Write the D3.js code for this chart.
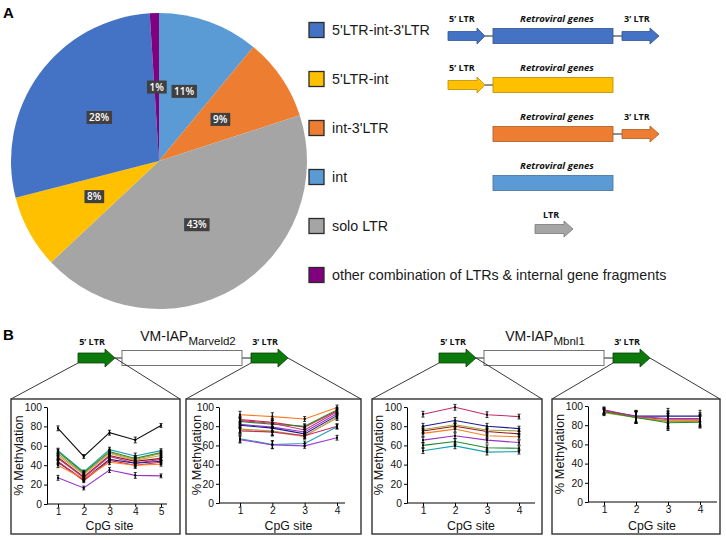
<!DOCTYPE html>
<html><head><meta charset="utf-8">
<script src="https://cdn.jsdelivr.net/npm/d3@7"></script>
<style>body{margin:0;background:#fff} svg{display:block}</style>
</head><body><svg id="c" width="726" height="540"></svg>
<script>
// ---------- DATA ----------
const pieCategories = ["5'LTR-int-3'LTR", "5'LTR-int", "int-3'LTR", "int", "solo LTR", "other combination of LTRs & internal gene fragments"];
const pieValues = [28, 8, 9, 11, 43, 1];
const pieOrder = [3, 2, 4, 1, 0, 5];           // clockwise from 12 o'clock
const pieLabels = ["28%", "8%", "9%", "11%", "43%", "1%"];
const diagramParts = [["5", "int", "3"], ["5", "int"], ["int", "3"], ["int"], ["ltr"], []];

const yTickValues = [0, 20, 40, 60, 80, 100];

const marveld5Sites = [1, 2, 3, 4, 5];
const marveld5Values = [
  [78, 49, 73.5, 66, 81],
  [55, 33, 56, 49.5, 55],
  [54, 32, 54, 47, 53],
  [52, 31, 53, 46, 52],
  [50, 30, 52, 45, 50],
  [48, 28, 50, 44, 47],
  [47, 27, 49, 42, 46],
  [43, 25, 46, 42, 44],
  [44, 24, 45, 40, 43],
  [40, 26, 43, 40, 41],
  [27, 16.5, 35, 29.5, 29]
];
const marveld5Err = [2.5, 2, 2.5, 3, 2];

const marveld3Sites = [1, 2, 3, 4];
const marveld3Values = [
  [92, 90, 87.5, 99.5],
  [87, 84, 79, 96],
  [85, 82, 80, 97],
  [86, 83, 76, 95],
  [82, 79, 74, 93],
  [81, 78, 72, 91],
  [77, 75, 70, 88.5],
  [76, 74, 69, 90],
  [75, 74, 70, 80],
  [67, 61, 62, 79.5],
  [66, 60.5, 59.5, 68]
];
const marveld3Err = [3.5, 4, 2.5, 2.5];

const mbnl5Sites = [1, 2, 3, 4];
const mbnl5Values = [
  [92.5, 99.7, 92, 90],
  [80, 86, 80, 77.5],
  [76.5, 81.5, 76, 75],
  [75, 80, 74.5, 72],
  [72.5, 77, 70, 69],
  [65.5, 70, 65.5, 63],
  [60, 64, 57.5, 57],
  [54.5, 59.5, 53, 53.5]
];
const mbnl5Err = [3, 3, 3, 2.5];

const mbnl3Sites = [1, 2, 3, 4];
const mbnl3Values = [
  [95, 89.5, 89.5, 89.5],
  [96, 89, 87, 87],
  [95, 88.5, 86, 85.5],
  [94, 88, 84.5, 84.5],
  [93, 88, 84, 84],
  [94, 88, 82.5, 83]
];
const mbnl3Err = [3, 6, 8, 6];

// ---------- STYLE / LAYOUT ----------
const pieColors = ["#4472C4", "#FFC000", "#ED7D31", "#5B9BD5", "#A5A5A5", "#800080"];
const col = {black:"#111", teal:"#1a9fb0", green:"#1f8a2a", olive:"#a3a032", tan:"#d2a45a", maroon:"#8e1a1a",
  magenta:"#c4337e", navy:"#1c1c96", red:"#d42a3a", orange:"#ff7a20", purple:"#9a33c4", crimson:"#c8286a", violet:"#a040d0"};
const marveld5Colors = [col.black, col.teal, col.green, col.olive, col.tan, col.maroon, col.magenta, col.navy, col.red, col.orange, col.purple];
const marveld3Colors = [col.orange, col.red, col.green, col.magenta, col.purple, col.navy, col.olive, col.tan, col.crimson, col.teal, col.violet];
const mbnl5Colors = [col.crimson, col.navy, col.olive, col.maroon, col.orange, col.purple, col.green, col.teal];
const mbnl3Colors = [col.navy, col.purple, col.red, col.orange, col.olive, col.green];

const svg = d3.select("#c");
const SANS = "'Liberation Sans', Arial, sans-serif";
const LBL = "'Open Sans', 'Liberation Sans', sans-serif";

// panel letters
svg.append("text").attr("x", 3).attr("y", 18).attr("font-family", SANS).attr("font-weight", "bold").attr("font-size", 15).text("A");
svg.append("text").attr("x", 3).attr("y", 340).attr("font-family", SANS).attr("font-weight", "bold").attr("font-size", 15).text("B");

// ---------- PIE ----------
const pieData = pieOrder.map(i => ({i, v: pieValues[i]}));
const arcs = d3.pie().sort(null).value(d => d.v)(pieData);
const pg = svg.append("g").attr("transform", "translate(159,161)");
const arc = d3.arc().innerRadius(0).outerRadius(148);
const labelArc = d3.arc().innerRadius(74).outerRadius(74);
pg.selectAll("path.s").data(arcs).join("path").attr("class", "s")
  .attr("d", arc).attr("fill", d => pieColors[d.data.i]);
arcs.forEach(d => {
  const [cx, cy] = labelArc.centroid(d);
  const g = pg.append("g");
  const t = g.append("text").attr("x", cx).attr("y", cy + 3.6).attr("text-anchor", "middle")
    .attr("font-family", LBL).attr("font-weight", 600).attr("font-size", 10).attr("fill", "#fff")
    .text(pieLabels[d.data.i]);
  const bb = t.node().getBBox();
  g.insert("rect", "text").attr("x", bb.x - 2.5).attr("y", cy - 6.5).attr("width", bb.width + 5).attr("height", 13).attr("fill", "#404040");
});

// ---------- LEGEND + DIAGRAMS ----------
function arrowPath(x0, xh, xt, cy, hb, hh) {
  return `M${x0},${cy - hb}L${xh},${cy - hb}L${xh},${cy - hh}L${xt},${cy}L${xh},${cy + hh}L${xh},${cy + hb}L${x0},${cy + hb}Z`;
}
const legY0 = 30, legStep = 49;
pieCategories.forEach((name, i) => {
  const cy = legY0 + i * legStep;
  const c = pieColors[i];
  const dk = d3.color(c).darker(0.9).formatHex();
  svg.append("rect").attr("x", 309).attr("y", cy - 7.5).attr("width", 15).attr("height", 15)
    .attr("fill", c).attr("stroke", "#2b2b2b").attr("stroke-width", 1.3);
  svg.append("text").attr("x", 332).attr("y", cy + 5).attr("font-family", SANS).attr("font-size", 14.3)
    .attr("fill", "#1a1a1a").text(name);
  const parts = diagramParts[i];
  const by = cy + 6;
  const lab = (x, txt, anchor, italic, fs) => svg.append("text").attr("x", x).attr("y", by - 14.5)
    .attr("text-anchor", anchor).attr("font-family", LBL).attr("font-weight", "bold")
    .attr("font-style", italic ? "italic" : "normal").attr("font-size", fs).attr("fill", "#111").text(txt);
  if (parts.includes("5")) {
    svg.append("path").attr("d", arrowPath(448, 477, 485, by, 4.5, 8)).attr("fill", c).attr("stroke", dk).attr("stroke-width", 0.8);
    svg.append("line").attr("x1", 485).attr("x2", 493).attr("y1", by).attr("y2", by).attr("stroke", "#222");
    lab(449, "5\u2019 LTR", "start", false, 9);
  }
  if (parts.includes("int")) {
    svg.append("rect").attr("x", 493).attr("y", by - 7.5).attr("width", 120).attr("height", 15)
      .attr("fill", c).attr("stroke", dk).attr("stroke-width", 0.8);
    lab(557, "Retroviral genes", "middle", true, 9.6);
  }
  if (parts.includes("3")) {
    svg.append("line").attr("x1", 613).attr("x2", 622).attr("y1", by).attr("y2", by).attr("stroke", "#222");
    svg.append("path").attr("d", arrowPath(622, 650, 659, by, 4.5, 8)).attr("fill", c).attr("stroke", dk).attr("stroke-width", 0.8);
    lab(624, "3\u2019 LTR", "start", false, 9);
  }
  if (parts.includes("ltr")) {
    const ly = cy + 3;
    svg.append("path").attr("d", arrowPath(535, 564, 573, ly, 4.5, 8)).attr("fill", c).attr("stroke", dk).attr("stroke-width", 0.8);
    svg.append("text").attr("x", 543).attr("y", ly - 11).attr("font-family", LBL).attr("font-weight", "bold")
      .attr("font-size", 9).attr("fill", "#111").text("LTR");
  }
});

// ---------- PANEL B DIAGRAMS ----------
const green = "#0b7a0b", greenDk = "#0a3d0a";
function bDiagram(o) {
  const cy = 358;
  const t = svg.append("text").attr("x", o.titleX).attr("y", 341).attr("text-anchor", "middle")
    .attr("font-family", SANS).attr("font-size", 14).attr("fill", "#111");
  t.append("tspan").text("VM-IAP");
  t.append("tspan").attr("dy", 3.5).attr("font-size", 11.5).text(o.sub);
  svg.append("path").attr("d", arrowPath(o.a5, o.a5 + 27, o.a5 + 37, cy, 5, 9)).attr("fill", green).attr("stroke", greenDk).attr("stroke-width", 0.8);
  svg.append("path").attr("d", arrowPath(o.a3, o.a3 + 27, o.a3 + 37, cy, 5, 9)).attr("fill", green).attr("stroke", greenDk).attr("stroke-width", 0.8);
  svg.append("line").attr("x1", o.a5 + 37).attr("x2", o.bx).attr("y1", cy).attr("y2", cy).attr("stroke", "#222");
  svg.append("line").attr("x1", o.bx + o.bw).attr("x2", o.a3).attr("y1", cy).attr("y2", cy).attr("stroke", "#222");
  svg.append("rect").attr("x", o.bx).attr("y", cy - 7.5).attr("width", o.bw).attr("height", 15)
    .attr("fill", "#fff").attr("stroke", "#666").attr("stroke-width", 0.9);
  [[o.a5 + 14, "5\u2019 LTR"], [o.a3 + 14, "3\u2019 LTR"]].forEach(([x, s]) =>
    svg.append("text").attr("x", x).attr("y", 345).attr("text-anchor", "middle").attr("font-family", LBL)
      .attr("font-weight", "bold").attr("font-size", 9).attr("fill", "#111").text(s));
  // zoom lines
  const zl = (x1, y1, x2) => svg.append("line").attr("x1", x1).attr("y1", y1).attr("x2", x2).attr("y2", 399).attr("stroke", "#222").attr("stroke-width", 0.9);
  zl(o.a5, cy + 5, o.boxes[0][0]); zl(o.a5 + 37, cy, o.boxes[0][1]);
  zl(o.a3, cy + 5, o.boxes[1][0]); zl(o.a3 + 37, cy, o.boxes[1][1]);
  o.boxes.forEach(([x0, x1]) => svg.append("rect").attr("x", x0).attr("y", 399).attr("width", x1 - x0).attr("height", 135)
    .attr("fill", "none").attr("stroke", "#333").attr("stroke-width", 1.4));
}
bDiagram({titleX: 188, sub: "Marveld2", a5: 78, a3: 251, bx: 122, bw: 120, boxes: [[11, 180], [186, 361]]});
bDiagram({titleX: 545, sub: "Mbnl1", a5: 439, a3: 613, bx: 484, bw: 120, boxes: [[372, 542], [552, 720]]});

// ---------- LINE CHARTS ----------
function lineChart(L, sites, values, errs, colors) {
  const g = svg.append("g");
  const x = d3.scaleLinear().domain([sites[0], sites[sites.length - 1]]).range([L.x1, L.xn]);
  const y = d3.scaleLinear().domain([0, 100]).range([L.yBot, L.yTop]);
  const ya = g.append("g").attr("transform", `translate(${L.ax},0)`)
    .call(d3.axisLeft(y).tickValues(yTickValues).tickSize(3).tickSizeOuter(0).tickPadding(2));
  const xa = g.append("g").attr("transform", `translate(0,${L.yBot})`)
    .call(d3.axisBottom(x).tickValues(sites).tickFormat(d3.format("d")).tickSize(3).tickSizeOuter(0).tickPadding(1));
  xa.select(".domain").remove();
  xa.append("line").attr("x1", L.ax).attr("x2", L.xend).attr("stroke", "#000");
  [ya, xa].forEach(a => {
    a.selectAll("text").attr("font-family", SANS).attr("font-size", 10.3).attr("fill", "#111");
    a.selectAll("line,path").attr("stroke", "#000").attr("stroke-width", 1);
  });
  g.append("text").attr("transform", `translate(${L.ylab},${(L.yTop + L.yBot) / 2}) rotate(-90)`)
    .attr("text-anchor", "middle").attr("dy", "0.35em").attr("font-family", SANS).attr("font-size", 12.8).attr("fill", "#111")
    .text("% Methylation");
  g.append("text").attr("x", (L.x1 + L.xn) / 2).attr("y", 529.5).attr("text-anchor", "middle")
    .attr("font-family", SANS).attr("font-size", 12.3).attr("fill", "#111").text("CpG site");
  const line = d3.line().x((d, i) => x(sites[i])).y(d => y(d));
  values.forEach((s, k) => g.append("path").attr("d", line(s)).attr("fill", "none")
    .attr("stroke", colors[k]).attr("stroke-width", 1.1));
  values.forEach(s => s.forEach((v, i) => {
    const xx = x(sites[i]), e = errs[i];
    g.append("line").attr("x1", xx).attr("x2", xx).attr("y1", y(v - e)).attr("y2", y(v + e)).attr("stroke", "#000").attr("stroke-width", 1);
    [v - e, v + e].forEach(w => g.append("line").attr("x1", xx - 1.5).attr("x2", xx + 1.5).attr("y1", y(w)).attr("y2", y(w)).attr("stroke", "#000").attr("stroke-width", 0.8));
    g.append("rect").attr("x", xx - 1).attr("y", y(v) - 1).attr("width", 2).attr("height", 2).attr("fill", "#000");
  }));
}
lineChart({ax: 47, x1: 58, xn: 161, xend: 167, yTop: 407, yBot: 504, ylab: 19}, marveld5Sites, marveld5Values, marveld5Err, marveld5Colors);
lineChart({ax: 219, x1: 240, xn: 337, xend: 345, yTop: 407, yBot: 503, ylab: 197}, marveld3Sites, marveld3Values, marveld3Err, marveld3Colors);
lineChart({ax: 407, x1: 423, xn: 519, xend: 535, yTop: 407, yBot: 503, ylab: 379}, mbnl5Sites, mbnl5Values, mbnl5Err, mbnl5Colors);
lineChart({ax: 588, x1: 604, xn: 700, xend: 717, yTop: 406, yBot: 502, ylab: 559.5}, mbnl3Sites, mbnl3Values, mbnl3Err, mbnl3Colors);
</script></body></html>
